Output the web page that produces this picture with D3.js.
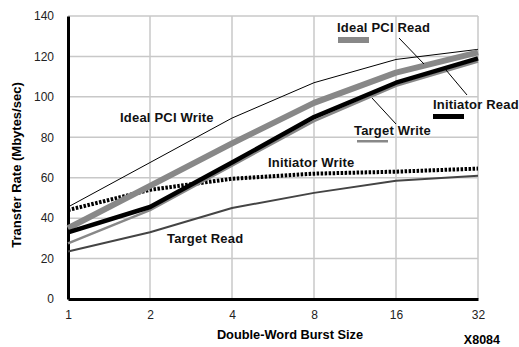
<!DOCTYPE html>
<html>
<head>
<meta charset="utf-8">
<script src="https://cdn.jsdelivr.net/npm/d3@7"></script>
<style>
  body { margin: 0; background: #fff; }
  svg { display: block; font-family: 'Liberation Sans', Arial, sans-serif; }
</style>
</head>
<body>
<div class="chart"></div>
<script>
const burstSizes = [1, 2, 4, 8, 16, 32];
const yTicks = [0, 20, 40, 60, 80, 100, 120, 140];

const idealPciWrite = [45.5, 67.5, 89.5, 107, 118.5, 123.5];
const idealPciRead = [35, 56, 77, 97, 112, 122];
const initiatorRead = [33, 45.5, 67.5, 90, 107, 119];
const targetWrite = [27.5, 44, 66, 88, 105.5, 117.5];
const initiatorWrite = [44, 54, 59.5, 62, 63, 64.5];
const targetRead = [23.5, 33, 45, 52.5, 58.5, 61];

const width = 519;
const height = 347;
const margin = { top: 16, right: 41, bottom: 48, left: 68 };

const svg = d3
  .select('.chart')
  .append('svg')
  .attr('width', width)
  .attr('height', height);

const x = d3
  .scaleLog()
  .base(2)
  .domain([1, 32])
  .range([margin.left, width - margin.right]);

const y = d3
  .scaleLinear()
  .domain([0, 140])
  .range([height - margin.bottom, margin.top]);

// grid
svg
  .append('g')
  .selectAll('line')
  .data(yTicks.slice(1))
  .join('line')
  .attr('x1', margin.left)
  .attr('x2', width - margin.right)
  .attr('y1', d => y(d))
  .attr('y2', d => y(d))
  .style('stroke', '#c8c8c8')
  .style('stroke-width', 1.5);

svg
  .append('g')
  .selectAll('line')
  .data(burstSizes.slice(1))
  .join('line')
  .attr('x1', d => x(d))
  .attr('x2', d => x(d))
  .attr('y1', y(0))
  .attr('y2', y(140))
  .style('stroke', '#c8c8c8')
  .style('stroke-width', 1.5);

// axes
const xAxis = svg
  .append('g')
  .attr('transform', `translate(0,${y(0)})`)
  .call(d3.axisBottom(x).tickValues(burstSizes).tickFormat(d3.format('d')).tickSize(0).tickPadding(11));
xAxis.select('.domain').style('stroke', '#000').style('stroke-width', 3);
xAxis.selectAll('text').style('font-size', '12px').style('fill', '#222');

const yAxis = svg
  .append('g')
  .attr('transform', `translate(${margin.left},0)`)
  .call(d3.axisLeft(y).tickValues(yTicks).tickSize(0).tickPadding(14));
yAxis.select('.domain').style('stroke', '#000').style('stroke-width', 3);
yAxis.selectAll('text').style('font-size', '12px').style('fill', '#222');

const line = d3
  .line()
  .x((d, i) => x(burstSizes[i]))
  .y(d => y(d));

const series = [
  { values: targetRead, color: '#444', width: 2 },
  { values: idealPciWrite, color: '#000', width: 1 },
  { values: initiatorWrite, color: '#000', width: 4, dash: '2.5,1.5' },
  { values: idealPciRead, color: '#888', width: 6 },
  { values: targetWrite, color: '#888', width: 2.5 },
  { values: initiatorRead, color: '#000', width: 4.5 }
];

svg
  .append('g')
  .selectAll('path')
  .data(series)
  .join('path')
  .attr('d', d => line(d.values))
  .style('fill', 'none')
  .style('stroke', d => d.color)
  .style('stroke-width', d => d.width)
  .style('stroke-dasharray', d => d.dash || null)
  .style('stroke-linejoin', 'round');

// labels
const labels = svg
  .append('g')
  .style('font-weight', 'bold')
  .style('font-size', '13px')
  .style('letter-spacing', '0.2px')
  .style('fill', '#111');

labels.append('text').attr('x', 120).attr('y', 122).text('Ideal PCI Write');
labels.append('text').attr('x', 337).attr('y', 32).text('Ideal PCI Read');
labels.append('text').attr('x', 433).attr('y', 109).text('Initiator Read');
labels.append('text').attr('x', 354).attr('y', 135).text('Target Write');
labels.append('text').attr('x', 268).attr('y', 167).text('Initiator Write');
labels.append('text').attr('x', 167).attr('y', 243).text('Target Read');

// legend swatches
svg.append('rect').attr('x', 338).attr('y', 37).attr('width', 31).attr('height', 6).style('fill', '#888');
svg.append('rect').attr('x', 433).attr('y', 114).attr('width', 31).attr('height', 5).style('fill', '#000');
svg.append('rect').attr('x', 357).attr('y', 140).attr('width', 31).attr('height', 2.5).style('fill', '#888');

// leader lines
const leaders = [
  [399, 38, 424, 64],
  [446, 70, 467, 95],
  [372, 98, 396, 124]
];
svg
  .append('g')
  .selectAll('line')
  .data(leaders)
  .join('line')
  .attr('x1', d => d[0])
  .attr('y1', d => d[1])
  .attr('x2', d => d[2])
  .attr('y2', d => d[3])
  .style('stroke', '#000')
  .style('stroke-width', 1);

// axis titles
svg
  .append('text')
  .attr('x', 290)
  .attr('y', 339)
  .attr('text-anchor', 'middle')
  .style('font-weight', 'bold')
  .style('font-size', '12.8px')
  .text('Double-Word Burst Size');

svg
  .append('text')
  .attr('transform', 'translate(21,165) rotate(-90)')
  .attr('text-anchor', 'middle')
  .style('font-weight', 'bold')
  .style('font-size', '13px')
  .text('Transfer Rate (Mbytes/sec)');

svg
  .append('text')
  .attr('x', 500)
  .attr('y', 344)
  .attr('text-anchor', 'end')
  .style('font-weight', 'bold')
  .style('font-size', '12.5px')
  .text('X8084');
</script>
</body>
</html>
